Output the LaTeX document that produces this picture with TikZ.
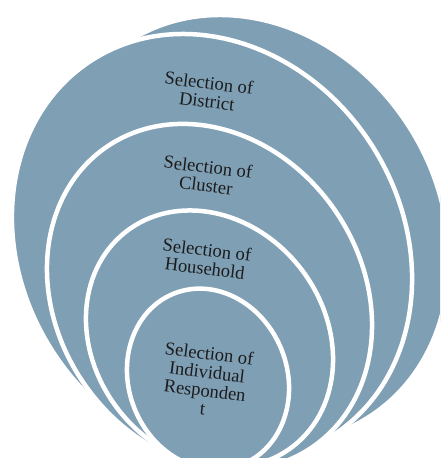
\documentclass[tikz,border=0pt]{standalone}
\usepackage{fontspec}
\setmainfont{Liberation Serif}
\definecolor{ringblue}{RGB}{127,159,181}
\definecolor{inktext}{RGB}{28,28,28}
\begin{document}
\begin{tikzpicture}[x=1pt,y=1pt,
  ringfill/.style={fill=ringblue, draw=white, line width=4.5pt},
  lbl/.style={align=center, font=\fontsize{18.5}{18.5}\selectfont, text=inktext, rotate=-7, inner sep=0pt}]
\useasboundingbox (0,0) rectangle (440,-458);
\clip (0,0) rectangle (440,-458);
% rings, outermost (back) first
\path[ringfill, rotate around={32.5:(249,-229)}] (249,-229) ellipse [x radius=190, y radius=223];
\path[ringfill, rotate around={32.5:(212,-248)}] (212,-248) ellipse [x radius=190, y radius=223];
\path[ringfill, rotate around={34.5:(209.5,-297)}] (209.5,-297) ellipse [x radius=152.5, y radius=182];
\path[ringfill, rotate around={38:(209.5,-339)}] (209.5,-339) ellipse [x radius=115.3, y radius=136];
\path[ringfill, rotate around={21.6:(208,-379)}] (208,-379) ellipse [x radius=79.2, y radius=92];
% labels
\node[lbl] (district) at (208,-92) {Selection of\\District};
\node[lbl] (cluster) at (207,-176) {Selection of\\Cluster};
\node[lbl] (household) at (206,-259) {Selection of\\Household};
\node[lbl] (individual) at (206,-381) {Selection of\\Individual\\Responden\\t};
\end{tikzpicture}
\end{document}
